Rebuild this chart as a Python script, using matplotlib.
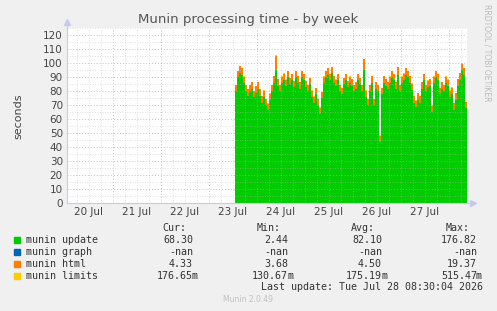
import numpy as np
import pandas as pd
import matplotlib
matplotlib.use("Agg")
import matplotlib.pyplot as plt
import matplotlib.dates as mdates

# hourly samples, 23 Jul 13:00 .. 28 Jul 08:00
start = "2026-07-23 13:00"
update = [80, 90, 93, 92, 86, 80, 77, 80, 82, 76, 79, 82, 77, 72, 76, 70, 67, 74, 80, 86,
          95, 84, 80, 86, 88, 84, 90, 85, 88, 83, 90, 86, 82, 90, 88, 83, 80, 85, 76, 72,
          78, 70, 64, 75, 86, 90, 92, 88, 93, 86, 84, 88, 80, 78, 85, 88, 83, 86, 84, 80,
          82, 88, 85, 80, 95, 76, 70, 80, 86, 70, 82, 80, 44, 78, 86, 84, 82, 86, 90, 88,
          82, 92, 80, 86, 88, 92, 90, 86, 81, 72, 69, 74, 72, 82, 88, 80, 83, 84, 65, 86,
          90, 88, 78, 82, 80, 86, 84, 76, 78, 67, 74, 84, 88, 95, 92, 68]
html = [4.4, 4.6, 4.8, 4.5, 4.4, 4.3, 4.5, 4.6, 4.4, 4.2, 4.5, 4.4, 4.6, 4.3, 4.4, 4.5, 4.2, 4.4, 4.6, 4.8,
        10.5, 4.6, 4.4, 4.5, 4.7, 4.4, 4.5, 4.6, 4.4, 4.3, 4.5, 4.8, 4.4, 4.6, 4.5, 4.4, 4.3, 4.5, 4.4, 4.2,
        4.5, 4.6, 4.4, 4.3, 4.5, 4.6, 4.8, 4.4, 4.5, 4.6, 4.4, 4.5, 4.3, 4.4, 4.6, 4.5, 4.4, 4.5, 4.6, 4.4,
        4.3, 4.5, 4.6, 4.4, 8.2, 4.5, 4.3, 4.4, 4.6, 4.4, 4.5, 4.4, 4.3, 4.5, 4.6, 4.8, 4.5, 4.4, 4.6, 4.5,
        4.4, 5.2, 4.5, 4.4, 4.6, 4.5, 4.4, 4.6, 4.5, 4.3, 4.4, 4.6, 4.5, 4.8, 4.5, 4.4, 4.6, 4.5, 4.3, 4.4,
        4.6, 4.5, 4.4, 4.6, 4.5, 4.4, 4.3, 4.5, 4.6, 4.4, 4.5, 4.6, 4.8, 4.7, 4.5, 4.33]
limits = [0.175] * len(update)

series = ["munin update", "munin graph", "munin html", "munin limits"]
colors = ["#00CC00", "#0066B3", "#FF8000", "#FFCC00"]
cur = ["68.30", "-nan", "4.33", "176.65m"]
vmin = ["2.44", "-nan", "3.68", "130.67m"]
avg = ["82.10", "-nan", "4.50", "175.19m"]
vmax = ["176.82", "-nan", "19.37", "515.47m"]

times = pd.date_range(start, periods=len(update), freq="h")
edges = pd.date_range(start, periods=len(update) + 1, freq="h")

W, H = 497, 311
fig = plt.figure(figsize=(W / 100, H / 100), dpi=100, facecolor="#F0F0F0")
ax = fig.add_axes([67 / W, 1 - 203.3 / H, 400 / W, 175 / H], facecolor="white")

g = np.array(update + [update[-1]], dtype=float)
h = np.array(html + [html[-1]], dtype=float)
l = np.array(limits + [limits[-1]], dtype=float)
ax.fill_between(edges, 0, g, step="post", color=colors[0], lw=0)
ax.fill_between(edges, g, g + h, step="post", color=colors[2], lw=0)
ax.fill_between(edges, g + h, g + h + l, step="post", color=colors[3], lw=0)

ax.set_xlim(pd.Timestamp("2026-07-20 01:00"), pd.Timestamp("2026-07-28 09:00"))
ax.set_ylim(0, 125)

# grid (drawn over data like rrdtool)
for d in pd.date_range("2026-07-20 06:00", "2026-07-28 06:00", freq="6h"):
    if d.hour == 0:
        ax.axvline(d, color="#E09090", ls=(0, (1, 2)), lw=0.7, alpha=0.7, zorder=3)
    else:
        ax.axvline(d, color="#BBBBBB", ls=(0, (1, 2)), lw=0.6, alpha=0.6, zorder=3)
for v in range(5, 126, 5):
    if v % 10 == 0:
        ax.axhline(v, color="#E09090", ls=(0, (1, 2)), lw=0.7, alpha=0.7, zorder=3)
    else:
        ax.axhline(v, color="#BBBBBB", ls=(0, (1, 2)), lw=0.6, alpha=0.6, zorder=3)

ax.set_yticks(range(0, 121, 10))
ax.xaxis.set_major_locator(mdates.HourLocator(byhour=[12]))
ax.xaxis.set_major_formatter(mdates.DateFormatter("%d %b"))
ax.tick_params(axis="both", length=0, labelsize=7.5, labelcolor="#444444", pad=3)
for s in ax.spines.values():
    s.set_visible(False)
axis_c = "#C8C8F0"
ax.plot([0, 1.01], [0, 0], transform=ax.transAxes, color=axis_c, lw=0.8, clip_on=False, zorder=4)
ax.plot([0, 0], [0, 1.03], transform=ax.transAxes, color=axis_c, lw=0.8, clip_on=False, zorder=4)
ax.plot([1.015], [0], transform=ax.transAxes, marker=">", ms=4, color=axis_c, clip_on=False, zorder=4)
ax.plot([0], [1.035], transform=ax.transAxes, marker="^", ms=4, color=axis_c, clip_on=False, zorder=4)

ax.set_ylabel("seconds", fontsize=8, color="#444444", labelpad=14)

fig.text(248 / W, 1 - 19 / H, "Munin processing time - by week", ha="center", va="center",
         fontsize=9.5, color="#555555")
fig.text(487 / W, 1 - 4 / H, "RRDTOOL / TOBI OETIKER", rotation=270, ha="center", va="top",
         fontsize=5.5, color="#BBBBBB")

# legend table
mono = dict(family="DejaVu Sans Mono", fontsize=7.2, color="#333333", va="center")
cols = [(193, cur, "Cur:"), (288, vmin, "Min:"), (382, avg, "Avg:"), (477, vmax, "Max:")]
for x, _, head in cols:
    fig.text((x - 7) / W, 1 - 228 / H, head, ha="right", **mono)
for i, name in enumerate(series):
    y = 1 - (240 + 12 * i) / H
    fig.patches.append(plt.Rectangle(((14) / W, y - 3 / H), 6 / W, 6 / H, color=colors[i],
                                     transform=fig.transFigure, figure=fig))
    fig.text(26 / W, y, name, ha="left", **mono)
    for x, vals, _ in cols:
        v = vals[i]
        if v.endswith("m"):
            fig.text(x / W, y, v[:-1], ha="right", **mono)
            fig.text((x - 1) / W, y, "m", ha="left", **mono)
        else:
            fig.text(x / W, y, v, ha="right", **mono)
fig.text(483 / W, 1 - 287 / H, "Last update: Tue Jul 28 08:30:04 2026", ha="right", **mono)
fig.text(248 / W, 1 - 300 / H, "Munin 2.0.49", ha="center", va="center", fontsize=5.5, color="#C0C0C0")

fig.savefig("out.png", dpi=100, facecolor=fig.get_facecolor())
